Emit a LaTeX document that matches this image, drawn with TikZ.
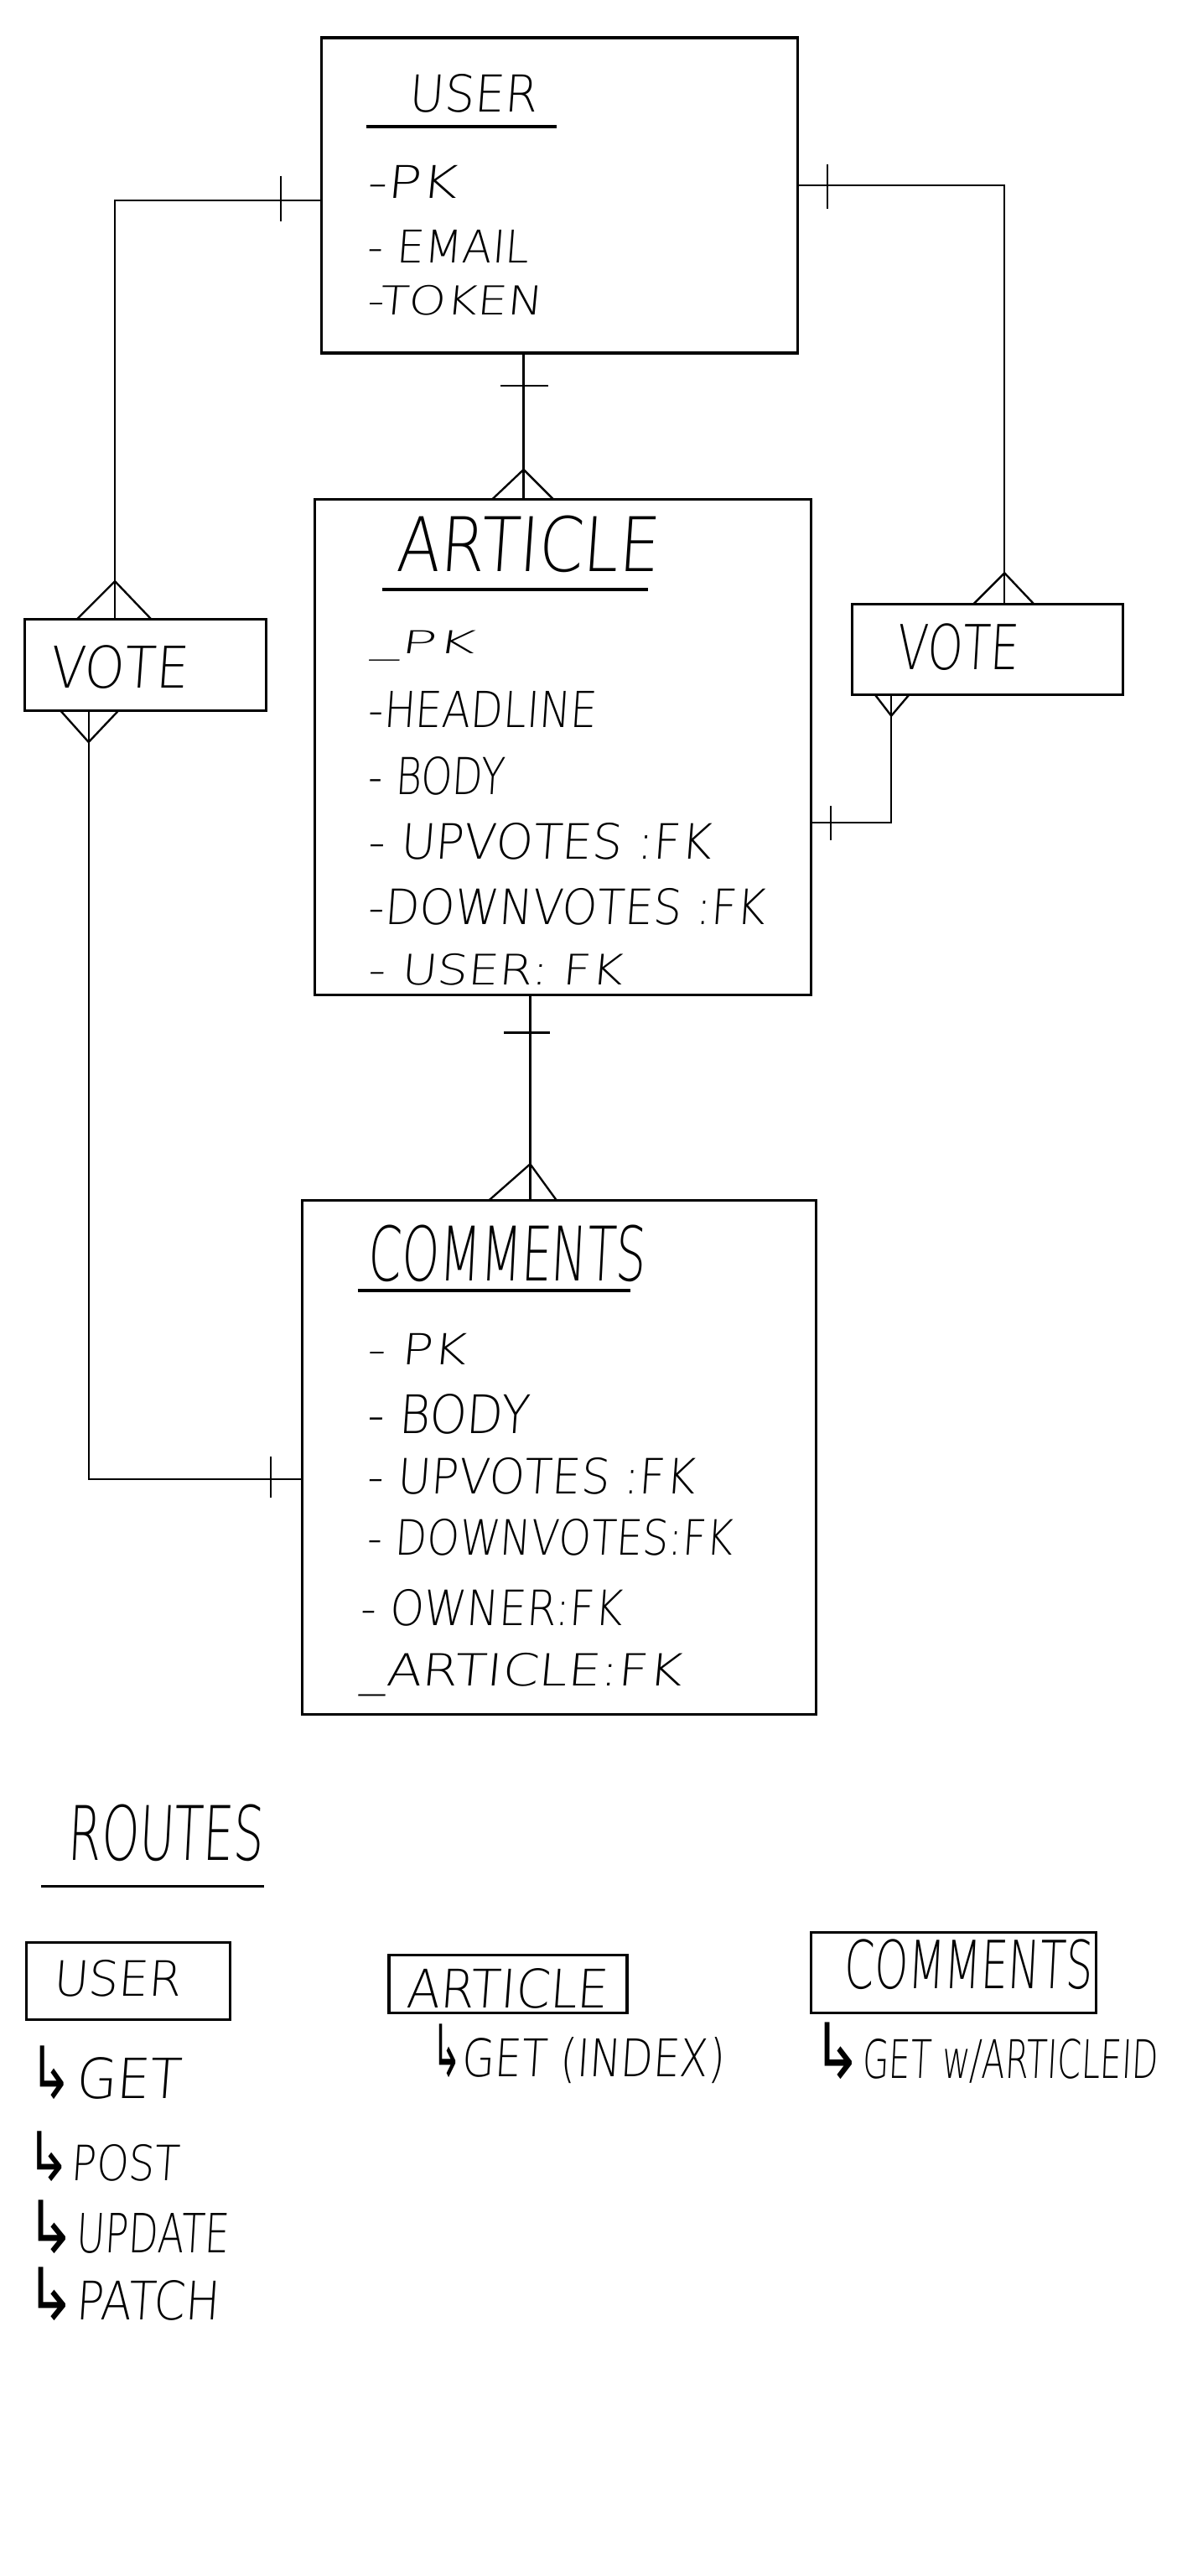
\documentclass[tikz,border=0pt]{standalone}
\usepackage{fontspec}
\usepackage{graphicx}
\newfontfamily\hand[FakeSlant=0.08]{DejaVu Sans ExtraLight}
\newfontfamily\handarrow{DejaVu Sans}
\newcommand\hw[3]{\resizebox{#1pt}{#2pt}{\hand #3}}
\newcommand\harr[2]{\resizebox{#1pt}{#2pt}{\handarrow ↳}}
\tikzset{
  ent/.style={draw, line width=1.6pt, inner sep=0pt, rectangle},
  txt/.style={inner sep=0pt, anchor=base west},
  conn/.style={line width=1.2pt},
  tick/.style={line width=1.2pt},
  crow/.style={line width=1.2pt},
  uline/.style={line width=1.8pt}
}
\begin{document}
\begin{tikzpicture}[x=1pt,y=-1pt]
\fill[white] (0,0) rectangle (717,1569);
\useasboundingbox (0,0) rectangle (717,1569);

% entity boxes
\node[ent, minimum width=290pt, minimum height=192pt] (user) at (341,119) {};
\node[ent, minimum width=302pt, minimum height=302pt] (article) at (343,455) {};
\node[ent, minimum width=313pt, minimum height=313pt] (comments) at (340.5,887.5) {};
\node[ent, minimum width=147pt, minimum height=56pt] (vote1) at (88.5,405) {};
\node[ent, minimum width=165pt, minimum height=55pt] (vote2) at (601.5,395.5) {};

% USER texts
\node[txt] (ut) at (249,68) {\hw{78}{23}{USER}};
\draw[uline] (223,77) -- (339,77);
\node[txt] (u1) at (223,121) {\hw{55}{20}{-PK}};
\node[txt] (u2) at (223,160) {\hw{99}{20}{- EMAIL}};
\node[txt] (u3) at (223,192) {\hw{107}{18}{-TOKEN}};

% ARTICLE texts
\node[txt] (at) at (241,348) {\hw{160}{34}{ARTICLE}};
\draw[uline] (233,359) -- (395,359);
\node[txt] (a1) at (226,398) {\hw{63}{14}{\_PK}};
\node[txt] (a2) at (224,443) {\hw{139}{22}{-HEADLINE}};
\node[txt] (a3) at (224,484) {\hw{83}{23}{- BODY}};
\node[txt] (a4) at (224,523) {\hw{209}{22}{- UPVOTES :FK}};
\node[txt] (a5) at (224,563) {\hw{242}{22}{-DOWNVOTES :FK}};
\node[txt] (a6) at (224,600) {\hw{155}{19}{- USER: FK}};

% COMMENTS texts
\node[txt] (ct) at (224,780) {\hw{169}{34}{COMMENTS}};
\draw[uline] (218,786) -- (384,786);
\node[txt] (c1t) at (223,831) {\hw{61}{19}{- PK}};
\node[txt] (c2t) at (223,873) {\hw{99}{24}{- BODY}};
\node[txt] (c3t) at (223,910) {\hw{200}{22}{- UPVOTES :FK}};
\node[txt] (c4t) at (223,947) {\hw{223}{22}{- DOWNVOTES:FK}};
\node[txt] (c5t) at (219,990) {\hw{160}{22}{- OWNER:FK}};
\node[txt] (c6t) at (219,1027) {\hw{196}{20}{\_ARTICLE:FK}};

% VOTE texts
\node[txt] (v1t) at (30,419) {\hw{84}{26}{VOTE}};
\node[txt] (v2t) at (546,408) {\hw{74}{28}{VOTE}};

% connectors
% user -- vote1
\coordinate (k1) at (70,122);
\draw[conn] (user.west |- k1) -- (k1) -- (vote1.north -| k1);
\draw[tick] (171,107) -- (171,135);
\coordinate (f1) at (70,354);
\draw[crow] (47,377) -- (f1) -- (92,377);

% user -- vote2
\coordinate (k2) at (612,113);
\draw[conn] (user.east |- k2) -- (k2) -- (vote2.north -| k2);
\draw[tick] (504,100) -- (504,127);
\coordinate (f2) at (612,349);
\draw[crow] (593,368) -- (f2) -- (630,368);

% user -- article
\coordinate (k3) at (319,235);
\draw[conn] (user.south -| k3) -- (article.north -| k3);
\draw[tick] (305,235) -- (334,235);
\coordinate (f3) at (319,286);
\draw[crow] (300,304) -- (f3) -- (337,304);

% vote2 -- article
\coordinate (k4) at (543,501);
\draw[conn] (vote2.south -| k4) -- (k4) -- (article.east |- k4);
\draw[tick] (506,491) -- (506,512);
\coordinate (f4) at (543,436);
\draw[crow] (533,423) -- (f4) -- (554,423);

% article -- comments
\coordinate (k5) at (323,629);
\draw[conn] (article.south -| k5) -- (comments.north -| k5);
\draw[tick] (307,629) -- (335,629);
\coordinate (f5) at (323,709);
\draw[crow] (298,731) -- (f5) -- (339,731);

% vote1 -- comments
\coordinate (k6) at (54,901);
\draw[conn] (vote1.south -| k6) -- (k6) -- (comments.west |- k6);
\draw[tick] (165,887) -- (165,912);
\coordinate (f6) at (54,452);
\draw[crow] (37,433) -- (f6) -- (72,433);

% ROUTES
\node[txt] (rt) at (41,1133) {\hw{119}{34}{ROUTES}};
\draw[uline] (25,1149) -- (161,1149);

\node[ent, minimum width=124pt, minimum height=47pt] (ru) at (78,1206.5) {};
\node[ent, minimum width=145pt, minimum height=35pt] (ra) at (309.5,1208.5) {};
\node[ent, minimum width=174pt, minimum height=49pt] (rc) at (581,1201.5) {};
\node[txt] (rut) at (32,1216) {\hw{78}{22}{USER}};
\node[txt] (rat) at (247,1223) {\hw{123}{24}{ARTICLE}};
\node[txt] (rct) at (514,1211) {\hw{151}{30}{COMMENTS}};

\node[txt] (r1) at (18,1278) {\harr{26}{32}\hspace{2pt}\hw{64}{25}{GET}};
\node[txt] (r2) at (16,1328) {\harr{27}{30}\hw{66}{22}{POST}};
\node[txt] (r3) at (16,1372) {\harr{30}{32}\hw{93}{24}{UPDATE}};
\node[txt] (r4) at (16,1413) {\harr{30}{32}\hw{87}{24}{PATCH}};
\node[txt] (r5) at (263,1265) {\harr{18}{32}\hw{160}{24}{GET (INDEX)}};
\node[txt] (r6) at (495,1266) {\harr{30}{34}\hw{180}{24}{GET w/ARTICLEID}};
\end{tikzpicture}
\end{document}
